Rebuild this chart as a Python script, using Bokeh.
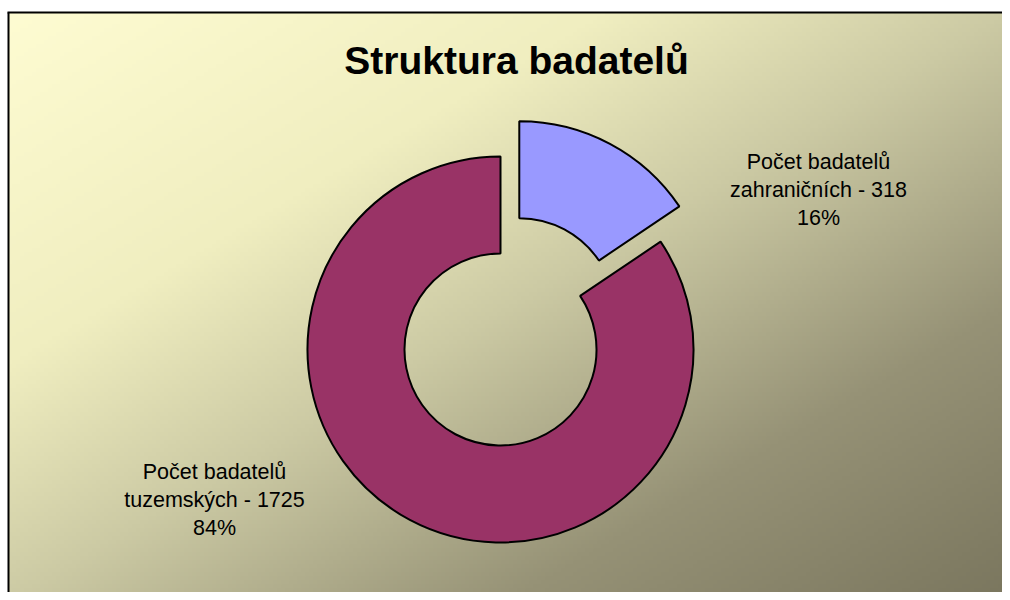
import numpy as np
from bokeh.plotting import figure
from bokeh.models import Range1d
from bokeh.core.properties import value
from bokeh.embed import file_html
from bokeh.resources import INLINE

# ---- data ----
title_text = "Struktura badatelů"
label_head = "Počet badatelů"
categories = ["zahraničních", "tuzemských"]
counts = [318, 1725]
colors = ["#9999FF", "#993366"]
explode = [40, 0]

W, H = 1002, 592
p = figure(width=W, height=H, x_range=Range1d(0, W), y_range=Range1d(0, H),
           output_backend="svg", toolbar_location=None, min_border=0)
p.axis.visible = False
p.grid.visible = False
p.outline_line_color = None
p.background_fill_color = "white"
p.border_fill_color = "white"

# ---- background gradient (chart area starts at x=8, y=12 from top) ----
x_left, y_top = 8, 12
full_w, full_h = 1002, 588
gw, gh = W - x_left, (H - y_top)
nx, ny = gw // 4, gh // 4
xs_px = x_left + (np.arange(nx) + 0.5) * gw / nx
ys_px = y_top + gh - (np.arange(ny) + 0.5) * gh / ny  # row 0 = bottom
u = (xs_px - x_left) / full_w
v = (ys_px - y_top) / full_h
t = (u[None, :] + v[:, None]) / 2.0
st = [0.0, 0.3, 0.5, 0.75, 1.0]
cr = [254, 240, 204, 150, 122]
cg = [252, 238, 202, 146, 118]
cb = [210, 192, 164, 118, 94]
img = np.empty((ny, nx), dtype=np.uint32)
view = img.view(dtype=np.uint8).reshape((ny, nx, 4))
view[:, :, 0] = np.interp(t, st, cr).astype(np.uint8)
view[:, :, 1] = np.interp(t, st, cg).astype(np.uint8)
view[:, :, 2] = np.interp(t, st, cb).astype(np.uint8)
view[:, :, 3] = 255
p.image_rgba(image=[img], x=x_left, y=0, dw=gw, dh=gh)

# borders (top and left only visible)
top = H - y_top
p.segment(x0=[x_left - 1, x_left], y0=[top, top], x1=[W, x_left], y1=[top, 0],
          line_color="black", line_width=2)

# ---- donut ----
cx, cy = 500, 243
r_in, r_out = 96, 193
total = sum(counts)
fr = np.array(counts) / total
cum = np.concatenate([[0], np.cumsum(fr)[:-1]])
starts = np.pi / 2 - 2 * np.pi * cum
ends = starts - 2 * np.pi * fr
mids = (starts + ends) / 2
wx = cx + np.array(explode) * np.cos(mids)
wy = cy + np.array(explode) * np.sin(mids)
p.annular_wedge(x=wx, y=wy, inner_radius=r_in, outer_radius=r_out,
                start_angle=starts, end_angle=ends, direction="clock",
                fill_color=colors, line_color="black", line_width=2)

# ---- labels ----
label_pos = [(818, 431), (214, 121)]
lx, ly, lt = [], [], []
for (x0, y0), cat, n, f in zip(label_pos, categories, counts, fr):
    lines = [label_head, f"{cat} - {n}", f"{round(f * 100)}%"]
    for k, s in enumerate(lines):
        lx.append(x0)
        ly.append(y0 - 28 * k)
        lt.append(s)
p.text(x=lx, y=ly, text=lt, text_align="center", text_baseline="alphabetic",
       text_font=value("Liberation Sans"), text_font_size="21.5px", text_color="black")

p.text(x=[516], y=[532], text=[title_text], text_align="center", text_baseline="alphabetic",
       text_font=value("Liberation Sans"), text_font_size="39px", text_font_style="bold",
       text_color="black")

open("out.html", "w").write(file_html(p, INLINE))
